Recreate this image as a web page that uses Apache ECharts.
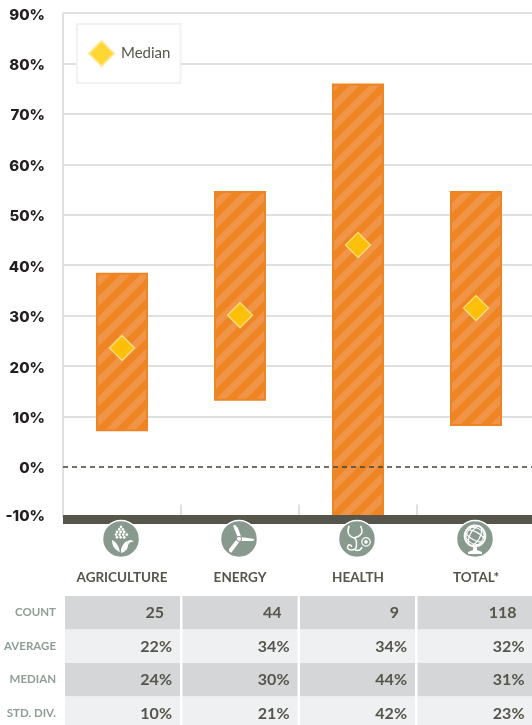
<!DOCTYPE html>
<html>
<head>
<meta charset="utf-8">
<style>
  html, body { margin: 0; padding: 0; background: #fff; overflow: hidden; }
  #chart { width: 532px; height: 725px; }
</style>
<script src="https://cdn.jsdelivr.net/npm/echarts@6/dist/echarts.min.js"></script>
</head>
<body>
<div id="chart"></div>
<script>
// Values
var categories = ['AGRICULTURE', 'ENERGY', 'HEALTH', 'TOTAL*']
var rangeLow = [7.3, 13.3, -10, 8.3]
var rangeHigh = [38.5, 54.7, 76, 54.7]
var medianPoints = [23.6, 30.1, 44, 31.5]

var rowLabels = ['COUNT', 'AVERAGE', 'MEDIAN', 'STD. DIV.']
var countRow = ['25', '44', '9', '118']
var averageRow = ['22%', '34%', '34%', '32%']
var medianRow = ['24%', '30%', '44%', '31%']
var stdRow = ['10%', '21%', '42%', '23%']
var tableRows = [countRow, averageRow, medianRow, stdRow]

var ORANGE = '#ee8522'
var STRIPE = '#f09548'
var DARK = '#55554b'
var GRID = '#dedfdf'
var ICON = '#88998e'
var FONT = 'Lato'

// diagonal hatch for the range bars
function hatch () {
  var c = document.createElement('canvas')
  c.width = 20
  c.height = 20
  var g = c.getContext('2d')
  g.fillStyle = ORANGE
  g.fillRect(0, 0, 20, 20)
  g.strokeStyle = STRIPE
  g.lineWidth = 7
  g.beginPath()
  for (var k = -20; k <= 40; k += 20) {
    g.moveTo(k - 10, 30)
    g.lineTo(k + 30, -10)
  }
  g.stroke()
  return c
}
var hatchImage = hatch()

function renderRange (params, api) {
  var i = api.value(0)
  var top = api.coord([i, api.value(2)])
  var bottom = api.coord([i, api.value(1)])
  var w = 52
  return {
    type: 'rect',
    shape: { x: top[0] - w / 2 + 1, y: top[1] + 1, width: w - 2, height: bottom[1] - top[1] - 1 },
    style: { fill: { image: hatchImage, repeat: 'repeat' }, stroke: ORANGE, lineWidth: 2 }
  }
}

function white (pathData, x, y, w, h) {
  return {
    type: 'path',
    shape: { pathData: pathData, layout: 'cover', x: x, y: y, width: w, height: h },
    style: { fill: '#fff' }
  }
}
function outline (pathData, x, y, w, h, lw) {
  return {
    type: 'path',
    shape: { pathData: pathData, layout: 'cover', x: x, y: y, width: w, height: h },
    style: { fill: 'none', stroke: '#fff', lineWidth: lw }
  }
}

var iconParts = [
  // corn
  function () {
    var parts = []
    var rows = [[0, -12, 1], [-2, -9.5, 2], [-4, -7, 3], [-5, -4.3, 4], [-4, -1.6, 3]]
    rows.forEach(function (r) {
      for (var n = 0; n < r[2]; n++) {
        parts.push({ type: 'circle', shape: { cx: r[0] + n * 3.6 - (r[2] === 2 ? -0.2 : 0), cy: r[1], r: 1.35 }, style: { fill: '#fff' } })
      }
    })
    parts.push(white('M-8 1 C-8 8 -5 12 -1 14 C-2 9 -3 4 -8 1 Z', -9, 1, 8, 12))
    parts.push(white('M1 14 C6 12 7 6 5 2 C2 5 0 10 1 14 Z', 0, 2, 7, 12))
    parts.push(white('M6 3 C8 1 10 1 12 3 C10 3 8 4 7 6 Z', 6, 1, 7, 5))
    return parts
  },
  // turbine
  function () {
    return [
      white('M-1 -2 L-6 -13 C-4 -15 -1 -13 2 -3 Z', -6, -14, 8, 13),
      white('M2 -2 L15 0 C15.5 1 14 2 13 2 L2 2 Z', 2, -2, 13.3, 4),
      white('M-2 0 L1 2 L-7 13 C-9 14 -10 12 -9.5 10 Z', -10, 0, 11, 13.5),
      { type: 'circle', shape: { cx: 0, cy: 0, r: 2.6 }, style: { fill: '#fff', stroke: ICON, lineWidth: 1 } }
    ]
  },
  // stethoscope
  function () {
    return [
      outline('M-8 -13 C-10 -7 -9 -3 -4 -1 C-2 0 -2 2 -2 5 C-2 8 -2 11 -6 11 C-9 11 -10 9 -9 7 C-8 5 -6 6 -6 8', -9.5, -13, 9, 24, 1.5),
      outline('M3 -13 C5 -7 4 -3 -1 -1', -3, -13, 8, 12, 1.5),
      outline('M-1 11 C2 12 4 11 5 8', -2, 8, 7, 3.5, 1.5),
      { type: 'circle', shape: { cx: 9, cy: 3, r: 4.2 }, style: { fill: 'none', stroke: '#fff', lineWidth: 1.2 } },
      { type: 'circle', shape: { cx: 9, cy: 3, r: 1.8 }, style: { fill: '#fff' } }
    ]
  },
  // globe
  function () {
    var parts = [
      { type: 'circle', shape: { cx: 0, cy: -3, r: 10.5 }, style: { fill: 'none', stroke: '#fff', lineWidth: 1.6 } },
      { type: 'ellipse', shape: { cx: 0, cy: -3, rx: 5, ry: 10.5 }, rotation: -0.5, originX: 0, originY: -3, style: { fill: 'none', stroke: '#fff', lineWidth: 1.2 } },
      { type: 'ellipse', shape: { cx: 0, cy: -3, rx: 10.5, ry: 4 }, rotation: -0.5, originX: 0, originY: -3, style: { fill: 'none', stroke: '#fff', lineWidth: 1.2 } },
      { type: 'ellipse', shape: { cx: 0, cy: -3, rx: 10.5, ry: 8 }, rotation: -0.5, originX: 0, originY: -3, style: { fill: 'none', stroke: '#fff', lineWidth: 1 } },
      { type: 'ellipse', shape: { cx: 0, cy: -3, rx: 8.5, ry: 10.5 }, rotation: -0.5, originX: 0, originY: -3, style: { fill: 'none', stroke: '#fff', lineWidth: 1 } },
      white('M-2 8 L2 8 L2 11 L7 13 L7 15 L-7 15 L-7 13 L-2 11 Z', -7, 8, 14, 7)
    ]
    return parts
  }
]

function renderIcon (params, api) {
  var i = api.value(0)
  var p = api.coord([i, -10])
  return {
    type: 'group',
    x: p[0] - 1,
    y: p[1] + 21.5,
    children: [
      { type: 'circle', shape: { cx: 0, cy: 0, r: 18.5 }, style: { fill: ICON, stroke: '#fff', lineWidth: 1.5 } }
    ].concat(iconParts[i]())
  }
}

function renderCell (params, api) {
  var col = api.value(0)
  var row = api.value(1)
  var p = api.coord([col, row])
  var size = api.size([1, 1])
  var text = tableRows[row][col]
  var pad = text.indexOf('%') > 0 ? 8 : 16
  var right = p[0] + size[0] / 2 - 1
  return {
    type: 'group',
    children: [
      {
        type: 'rect',
        shape: { x: p[0] - size[0] / 2 + 1.5, y: p[1] - size[1] / 2, width: size[0] - 2.5, height: size[1] },
        style: { fill: row % 2 === 0 ? '#d5d6d8' : '#eff0f2' }
      },
      {
        type: 'text',
        style: {
          x: right - pad,
          y: p[1] + 0.5,
          text: text,
          align: 'right',
          verticalAlign: 'middle',
          fill: DARK,
          font: '700 16px ' + FONT
        }
      }
    ]
  }
}

var rangeData = categories.map(function (c, i) { return [i, rangeLow[i], rangeHigh[i]] })
var iconData = categories.map(function (c, i) { return [i] })
var cellData = []
tableRows.forEach(function (r, row) {
  r.forEach(function (v, col) { cellData.push([col, row]) })
})

var gridLineColors = []
for (var t = 0; t < 11; t++) gridLineColors.push(t === 1 ? '#fff' : GRID)

var tickFont = { color: '#231f20', fontFamily: 'Inter', fontSize: 15, fontWeight: 800 }

var option = {
  animation: false,
  backgroundColor: '#fff',
  textStyle: { fontFamily: FONT },
  legend: {
    left: 77,
    top: 24,
    padding: [16, 10, 16, 11],
    itemWidth: 25,
    itemHeight: 25,
    itemGap: 0,
    backgroundColor: '#fff',
    borderColor: '#f1f1f2',
    borderWidth: 2,
    data: ['Median'],
    textStyle: { color: DARK, fontFamily: FONT, fontSize: 15, padding: [0, 0, 0, 2] },
    z: 20
  },
  grid: [
    { left: 63, top: 13, width: 472, height: 504.4, outerBoundsMode: 'none' },
    { left: 63.5, top: 596, width: 470, height: 134, outerBoundsMode: 'none' }
  ],
  xAxis: [
    {
      gridIndex: 0,
      type: 'category',
      data: categories,
      position: 'bottom',
      axisLine: { show: false, onZero: false },
      axisTick: { show: true, inside: true, length: 13, lineStyle: { color: GRID, width: 2 } },
      axisLabel: {
        show: true,
        margin: 53,
        color: DARK,
        fontFamily: FONT,
        fontSize: 13.5,
        fontWeight: 700,
        interval: 0
      }
    },
    {
      gridIndex: 0,
      type: 'category',
      data: categories,
      position: 'bottom',
      offset: 2,
      z: 6,
      axisLine: { show: true, onZero: false, lineStyle: { color: DARK, width: 9, cap: 'butt' } },
      axisTick: { show: false },
      axisLabel: { show: false }
    },
    {
      gridIndex: 1,
      type: 'category',
      data: categories,
      show: false
    }
  ],
  yAxis: [
    {
      gridIndex: 0,
      type: 'value',
      min: -10,
      max: 90,
      interval: 10,
      axisLine: { show: true, onZero: false, lineStyle: { color: GRID, width: 2, cap: 'butt' } },
      axisTick: { show: false },
      splitLine: { show: true, lineStyle: { color: gridLineColors, width: 2 } },
      axisLabel: {
        margin: 18,
        padding: [4, 0, 0, 0],
        color: tickFont.color,
        fontFamily: tickFont.fontFamily,
        fontSize: tickFont.fontSize,
        fontWeight: tickFont.fontWeight,
        rich: {
          low: {
            color: tickFont.color,
            fontFamily: tickFont.fontFamily,
            fontSize: tickFont.fontSize,
            fontWeight: tickFont.fontWeight,
            padding: [0, 0, 6, 0]
          }
        },
        formatter: function (v) { return v < 0 ? '{low|' + v + '%}' : v + '%' }
      }
    },
    {
      gridIndex: 1,
      type: 'category',
      inverse: true,
      data: rowLabels,
      axisLine: { show: false },
      axisTick: { show: false },
      axisLabel: {
        margin: 7.5,
        color: '#8f9f95',
        fontFamily: FONT,
        fontSize: 11.5,
        fontWeight: 700
      }
    }
  ],
  series: [
    {
      name: 'zero',
      type: 'line',
      data: [],
      xAxisIndex: 0,
      yAxisIndex: 0,
      z: 2,
      silent: true,
      markLine: {
        silent: true,
        symbol: 'none',
        label: { show: false },
        lineStyle: { color: '#444439', type: [5, 4], width: 1.5 },
        data: [{ yAxis: 0 }]
      }
    },
    {
      name: 'Range',
      type: 'custom',
      xAxisIndex: 0,
      yAxisIndex: 0,
      z: 3,
      clip: true,
      renderItem: renderRange,
      encode: { x: 0, y: [1, 2] },
      data: rangeData
    },
    {
      name: 'Median',
      type: 'scatter',
      xAxisIndex: 0,
      yAxisIndex: 0,
      z: 5,
      symbol: 'diamond',
      symbolSize: 25,
      itemStyle: { color: '#ffcc00', borderColor: '#ffe58a', borderWidth: 1.5 },
      data: categories.map(function (c, i) { return [i, medianPoints[i]] })
    },
    {
      name: 'Icons',
      type: 'custom',
      xAxisIndex: 0,
      yAxisIndex: 0,
      z: 8,
      clip: false,
      silent: true,
      renderItem: renderIcon,
      encode: { x: 0 },
      data: iconData
    },
    {
      name: 'Table',
      type: 'custom',
      xAxisIndex: 2,
      yAxisIndex: 1,
      clip: false,
      silent: true,
      renderItem: renderCell,
      encode: { x: 0, y: 1 },
      data: cellData
    }
  ]
}

var chart = echarts.init(document.getElementById('chart'), null, { renderer: 'canvas' })
chart.setOption(option)
</script>
</body>
</html>
